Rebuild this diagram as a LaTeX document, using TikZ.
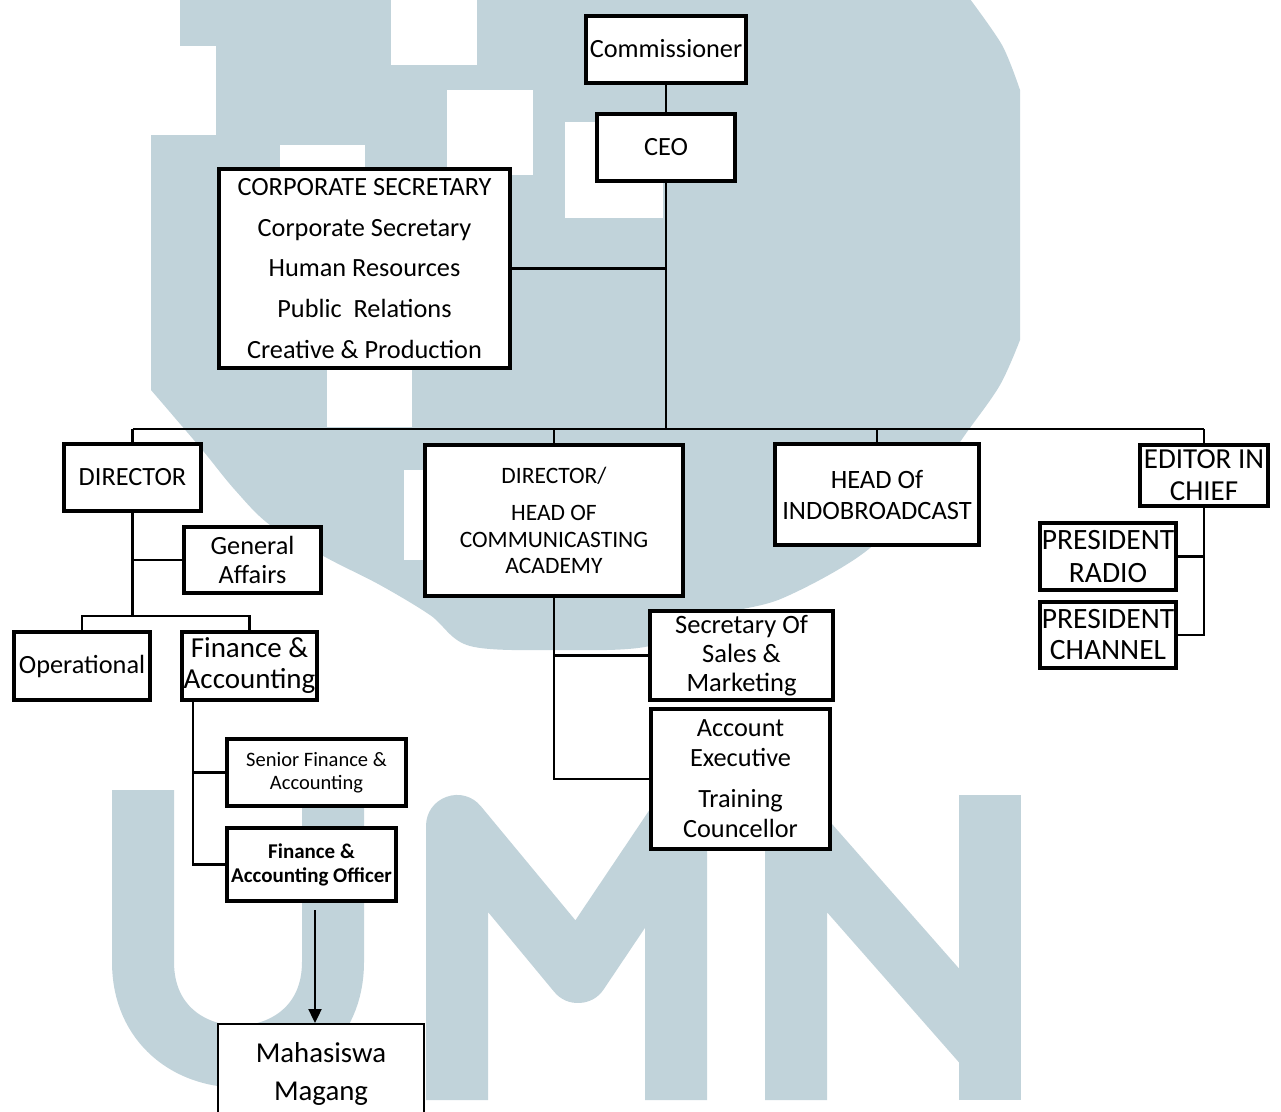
\documentclass[tikz,border=0pt]{standalone}
\usepackage{fontspec}
\setmainfont{Carlito}
\usetikzlibrary{arrows.meta}
\newcommand\myfs[2]{\fontsize{#1}{#2}\selectfont}
\definecolor{wm}{RGB}{193,211,218}
\begin{document}
\begin{tikzpicture}[x=1pt,y=-1pt,
  box/.style={draw, line width=4pt, fill=white, inner sep=0pt, align=center, font=\myfs{26.3}{29}},
  conn/.style={line width=2.3pt},
  arr/.style={line width=2.3pt, -{Triangle[length=14pt,width=13pt]}},
  letter/.style={wm, line width=62pt, line join=round}]
\useasboundingbox (0,0) rectangle (1281,1111);
\clip (0,0) rectangle (1281,1111);
% ---------- watermark ----------
\fill[wm] (180,-5) -- (180,135) -- (151,135) -- plot[smooth, tension=0.55] coordinates {(151,390) (175,418) (204,452) (235,490) (270,525) (327,558) (380,585) (430,615) (470,646) (560,650) (650,646) (720,615) (783,598) (865,552) (925,490) (967,432) (1000,385) (1020,340)} -- (1020,90) -- plot[smooth] coordinates {(1020,90) (1002,45) (967,-5)} -- cycle;
\fill[white] (170,46) rectangle (216,135);
\fill[white] (391,-5) rectangle (477,65);
\fill[white] (447,90) rectangle (533,175);
\fill[white] (280,145) rectangle (365,200);
\fill[white] (565,122) rectangle (663,218);
\fill[white] (327,370) rectangle (412,427);
\fill[white] (404,470) rectangle (430,560);
% U
\draw[letter] (143,790) -- (143,962) .. controls (143,1088) and (333,1088) .. (333,962) -- (333,805);
% M
\draw[letter] (457,1100) -- (457,826) -- (578,972) -- (676,826) -- (676,1100);
% N
\draw[letter] (796,1100) -- (796,830) -- (985,1045);
\draw[wm, line width=62pt] (990,1100) -- (990,795);
% ---------- boxes ----------
\node[box, minimum width=160pt, minimum height=67pt] (comm) at (666,49) {Commissioner};
\node[box, minimum width=138pt, minimum height=67pt] (ceo) at (666,147.5) {CEO};
\node[box, minimum width=291pt, minimum height=199pt, font=\myfs{26.3}{40.75}] (corp) at (364.5,268.5)
  {CORPORATE SECRETARY\\Corporate Secretary\\Human Resources\\Public\ \ Relations\\Creative \& Production};
\node[box, minimum width=137pt, minimum height=67pt] (dir) at (132.5,477.5) {DIRECTOR};
\node[box, minimum width=137pt, minimum height=66pt] (ga) at (252.5,560) {General\\Affairs};
\node[box, minimum width=136pt, minimum height=68pt] (op) at (82,666) {Operational};
\node[box, minimum width=135pt, minimum height=68pt, font=\myfs{29}{31}] (fa) at (249.5,666) {Finance \&\\Accounting};
\node[box, minimum width=179pt, minimum height=67pt, font=\myfs{20.5}{23}] (sfa) at (316.5,772.5) {Senior Finance \&\\Accounting};
\node[box, minimum width=169pt, minimum height=73pt, font=\bfseries\myfs{21}{24}] (fao) at (311.5,864.5) {Finance \&\\Accounting Officer};
\node[box, line width=2pt, minimum width=206pt, minimum height=100pt, font=\myfs{28.8}{38}] (mhs) at (321,1074) {Mahasiswa\\Magang};
\node[box, minimum width=258pt, minimum height=151pt, font=\myfs{23.5}{26.5}] (acad) at (554,520.5)
  {DIRECTOR/\\[10.5pt]HEAD OF\\COMMUNICASTING\\ACADEMY};
\node[box, minimum width=204pt, minimum height=101pt, font=\myfs{26.5}{31}] (hio) at (877,494.5) {HEAD Of\\INDOBROADCAST};
\node[box, minimum width=128pt, minimum height=61pt, font=\myfs{29}{32}] (eic) at (1204,475.5) {EDITOR IN\\CHIEF};
\node[box, minimum width=136pt, minimum height=67pt, font=\myfs{29.5}{33}] (pr) at (1108,556.5) {PRESIDENT\\RADIO};
\node[box, minimum width=136pt, minimum height=66pt, font=\myfs{29.5}{31}] (pc) at (1108,635) {PRESIDENT\\CHANNEL};
\node[box, minimum width=183pt, minimum height=89pt, font=\myfs{26.5}{29}] (sec) at (741.5,655.5) {Secretary Of\\Sales \&\\Marketing};
\node[box, minimum width=179pt, minimum height=140pt, font=\myfs{26.3}{30}] (acc) at (740.5,779)
  {Account\\Executive\\[11pt]Training\\Councellor};
% ---------- connectors ----------
\coordinate (busL) at (132.5,429);
\coordinate (busR) at (1204,429);
\coordinate (dj) at (132.5,616);
\coordinate (aS) at ([xshift=3.5pt,yshift=-7pt]fao.south);
\draw[conn] (comm) -- (ceo);
\draw[conn] (ceo) -- (ceo |- busL);
\draw[conn] (corp.east) -- (corp.east -| ceo.south);
\draw[conn] (busL) -- (busR);
\draw[conn] (dir.north) -- (dir.north |- busL);
\draw[conn] (acad.north) -- (acad.north |- busL);
\draw[conn] (hio.north) -- (hio.north |- busL);
\draw[conn] (eic.north) -- (eic.north |- busL);
\draw[conn] (dir.south) |- (ga.west);
\draw[conn] (dir.south) -- (dj);
\draw[conn] (op.north) |- (dj) -| (fa.north);
\draw[conn] ([xshift=13pt]fa.south west) |- (sfa.west);
\draw[conn] ([xshift=13pt]fa.south west) |- (fao.west);
\draw[arr] (aS) -- (aS |- mhs.north);
\draw[conn] (acad.south) |- (sec.west);
\draw[conn] (acad.south) |- (acc.west);
\draw[conn] (eic.south) |- (pr.east);
\draw[conn] (eic.south) |- (pc.east);
\end{tikzpicture}
\end{document}
